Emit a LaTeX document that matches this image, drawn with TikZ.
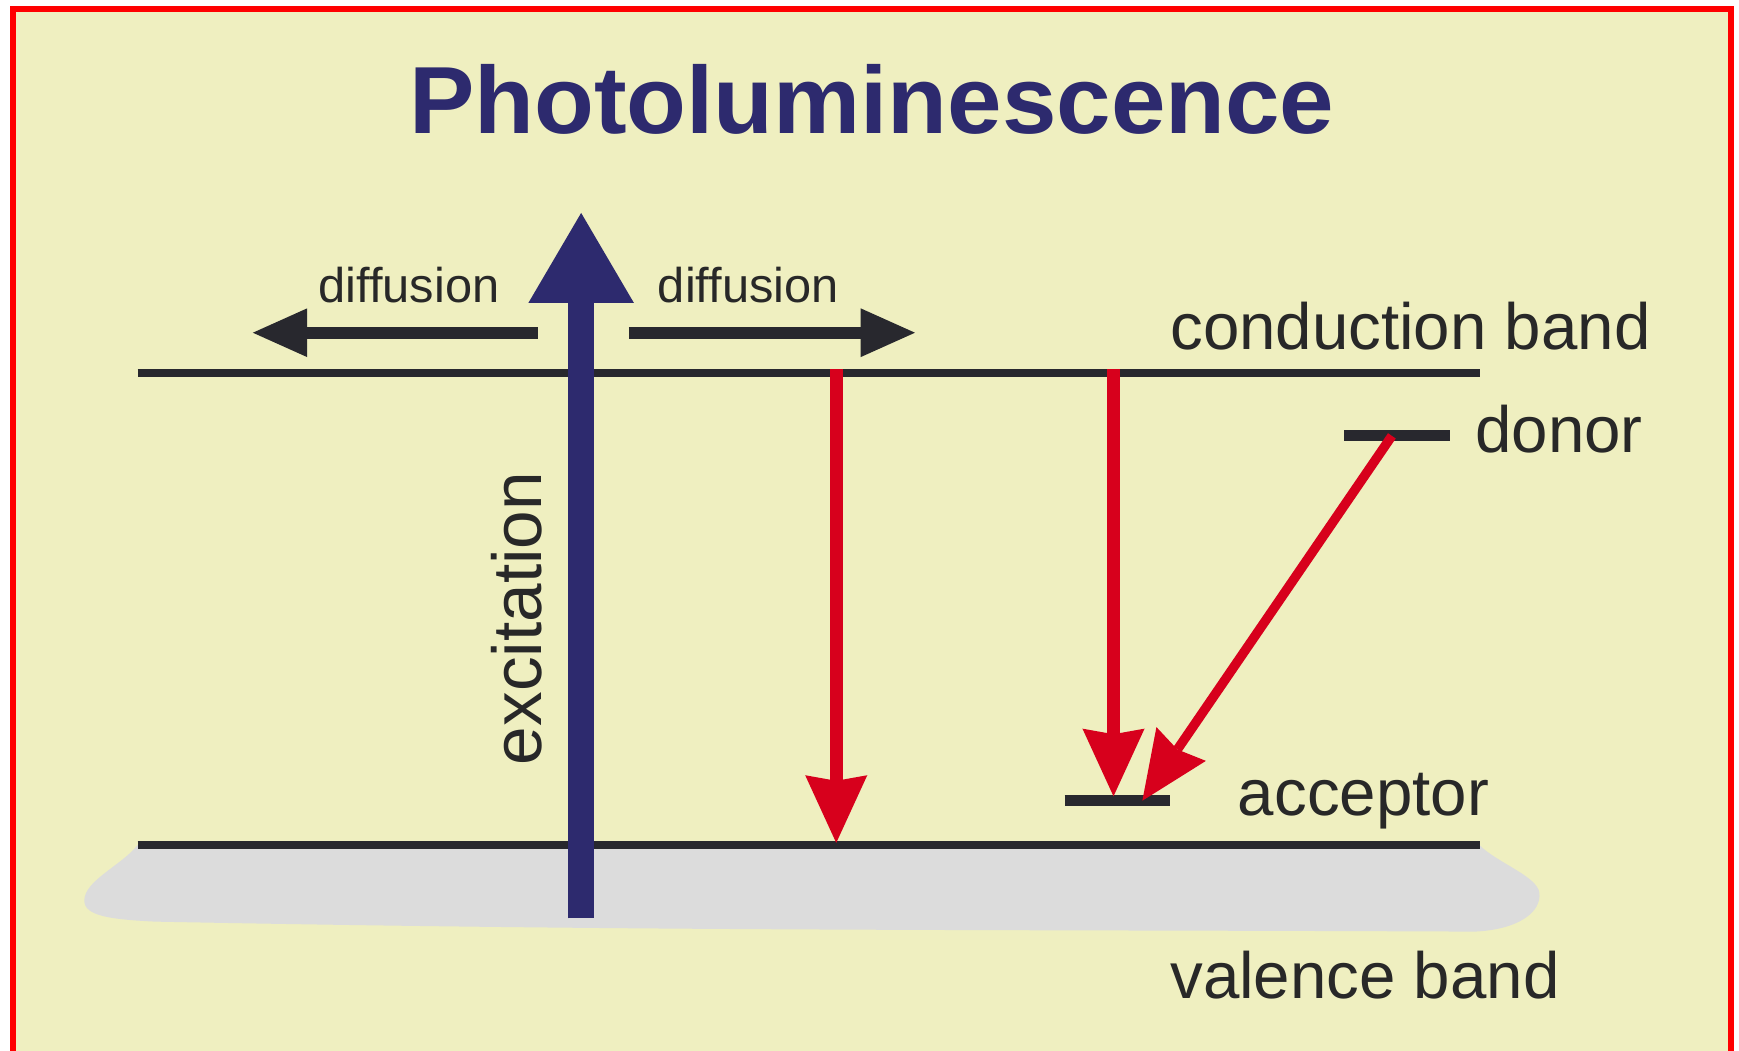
\documentclass[tikz,border=0pt]{standalone}
\usepackage{fontspec}
\setmainfont{Liberation Sans}
\usetikzlibrary{arrows.meta}
\definecolor{bgyellow}{RGB}{239,239,192}
\definecolor{blobgray}{RGB}{220,220,220}
\definecolor{navyblue}{RGB}{45,42,110}
\definecolor{linedark}{RGB}{40,40,46}
\definecolor{txtdark}{RGB}{40,40,40}
\definecolor{arrred}{RGB}{215,0,28}
\definecolor{frame}{RGB}{255,0,0}
\begin{document}
\begin{tikzpicture}[x=1pt,y=-1pt,
  lvl/.style={draw=linedark,line width=7pt},
  imp/.style={draw=linedark,line width=10pt},
  lbl/.style={inner sep=0pt,text=txtdark,font=\fontsize{59}{59}\selectfont},
  difflbl/.style={inner sep=0pt,text=txtdark,font=\fontsize{44}{44}\selectfont},
  titlelbl/.style={inner sep=0pt,text=navyblue,font=\fontsize{86}{86}\selectfont\bfseries},
  diffarrow/.style={draw=linedark,line width=11pt,-{Triangle[length=49pt,width=44pt,line width=0pt]}},
  excarrow/.style={draw=navyblue,line width=24pt,-{Triangle[length=81pt,width=95pt,line width=0pt]}},
  recarrow/.style={draw=arrred,line width=12pt,-{Stealth[length=61pt,width=56pt,inset=5pt,line width=0pt]}},
  darrow/.style={draw=arrred,line width=8.5pt,-{Stealth[length=62pt,width=54pt,inset=6pt,line width=0pt]}}
]
\useasboundingbox (0,0) rectangle (1568,947);
\clip (0,0) rectangle (1568,947);
\fill[white] (0,0) rectangle (1568,947);
\fill[bgyellow] (11.7,8.1) rectangle (1561,960);
\draw[frame,line width=5.4pt] (11.7,960) -- (11.7,8.1) -- (1560.5,8.1) -- (1560.5,960);

% valence band blob
\fill[blobgray] (124,762) .. controls (110,780) and (76,794) .. (76,812)
  .. controls (76,826) and (100,829) .. (140,831)
  .. controls (600,840) and (900,838) .. (1330,840)
  .. controls (1370,838) and (1390,822) .. (1388,805)
  .. controls (1386,790) and (1350,778) .. (1334,762) -- cycle;

% coordinates
\coordinate (cbL) at (124,336);
\coordinate (cbR) at (1334,336);
\coordinate (vbL) at (124,762);
\coordinate (vbR) at (1334,762);
\coordinate (donL) at (1212,393);
\coordinate (donR) at (1307,393);
\coordinate (accL) at (960,722);
\coordinate (accR) at (1055,722);
\coordinate (excB) at (524,828);
\coordinate (excT) at (524,192);
\coordinate (dlS) at (485,300);
\coordinate (dlE) at (228,300);
\coordinate (drS) at (567,300);
\coordinate (drE) at (825,300);
\coordinate (r1S) at (754,333);
\coordinate (r1E) at (754,760);
\coordinate (r2S) at (1004,333);
\coordinate (r2E) at (1004,718);
\coordinate (dS) at (1255,393);
\coordinate (dE) at (1030,722);

% levels
\draw[lvl] (cbL) -- (cbR);
\draw[lvl] (vbL) -- (vbR);
\draw[imp] (donL) -- (donR);
\draw[imp] (accL) -- (accR);

% arrows
\draw[excarrow] (excB) -- (excT);
\draw[diffarrow] (dlS) -- (dlE);
\draw[diffarrow] (drS) -- (drE);
\draw[recarrow] (r1S) -- (r1E);
\draw[recarrow] (r2S) -- (r2E);
\draw[darrow] (dS) -- (dE);

% labels
\node[titlelbl,anchor=base,xscale=1.027] (title) at (786,120.5) {Photoluminescence};
\node[difflbl,anchor=base west] (difl) at (287,273) {diffusion};
\node[difflbl,anchor=base west] (difr) at (593,273) {diffusion};
\node[lbl,anchor=base west] (cband) at (1055,315) {conduction band};
\node[lbl,anchor=base west] (donor) at (1330,408) {donor};
\node[lbl,anchor=base west] (acceptor) at (1116,735) {acceptor};
\node[lbl,anchor=base west] (vband) at (1055,900) {valence band};
\node[lbl,font=\fontsize{62.5}{62.5}\selectfont,rotate=90,anchor=base west] (exc) at (488.5,690) {excitation};
\end{tikzpicture}
\end{document}
